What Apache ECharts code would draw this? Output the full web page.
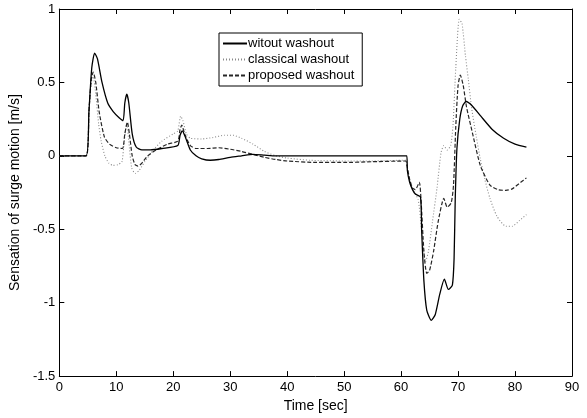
<!DOCTYPE html>
<html>
<head>
<meta charset="utf-8">
<script src="https://cdn.jsdelivr.net/npm/echarts@6/dist/echarts.min.js"></script>
<style>
    html, body { margin: 0; padding: 0; background: #fff; }
    #chart { width: 587px; height: 418px; }
</style>
</head>
<body>
<div id="chart"></div>
<script>
    // without washout
    var t1 = [0, 4.7, 5.2, 5.7, 6.2, 6.7, 7.5, 8.5, 9.5, 10.5, 11.2, 11.5, 11.85, 12.2, 12.8, 13.5, 14.5, 16, 18, 20.8,
        21.2, 21.6, 22.2, 23, 24, 25, 26.5, 28, 30, 32, 34, 36, 38, 40, 61, 61.1, 61.5, 62, 62.5, 63.4,
        63.6, 64, 64.5, 65.3, 66, 66.8, 67.6, 68.3, 69.0, 69.3, 69.5, 69.8, 70.3, 70.8, 71.4, 72.5, 74, 76, 78, 80, 82];
    var v1 = [0, 0, 0.3, 0.6, 0.70, 0.66, 0.5, 0.36, 0.30, 0.26, 0.24, 0.36, 0.42, 0.36, 0.15, 0.06, 0.04, 0.04, 0.05, 0.07,
        0.14, 0.17, 0.12, 0.04, 0.0, -0.02, -0.03, -0.025, -0.01, 0.0, 0.01, 0.005, 0.0, 0, 0, -0.1, -0.18, -0.23, -0.26, -0.28,
        -0.5, -0.85, -1.05, -1.12, -1.08, -0.94, -0.84, -0.91, -0.88, -0.7, -0.3, 0.05, 0.25, 0.34, 0.37, 0.34, 0.27, 0.18, 0.12, 0.08, 0.06];

    // classical washout
    var t2 = [0, 4.7, 5.2, 5.6, 5.95, 6.4, 6.9, 7.35, 8, 8.7, 9.4, 10.3, 11.0, 11.4, 11.85, 12.2, 12.7, 13.3, 14, 15,
        16.5, 18, 20, 20.8, 21.3, 21.7, 22.3, 23, 25, 27, 29, 30.5, 32, 34, 36, 38, 40, 44, 50, 55,
        60.8, 61, 61.5, 62, 63, 63.6, 64.3, 64.8, 65.5, 66.3, 67, 67.5, 68.1, 68.7, 69.1, 69.6, 70.2, 70.7, 71.3, 71.8,
        72.4, 73.2, 73.9, 74.7, 75.6, 76.8, 78.4, 79.5, 80.8, 82];
    var v2 = [0, 0, 0.3, 0.5, 0.54, 0.42, 0.22, 0.1, 0.0, -0.05, -0.065, -0.06, -0.04, 0.1, 0.22, 0.1, -0.08, -0.12, -0.1, -0.04,
        0.04, 0.1, 0.15, 0.17, 0.27, 0.24, 0.15, 0.12, 0.115, 0.125, 0.14, 0.14, 0.12, 0.08, 0.03, 0.0, -0.015, -0.03, -0.035, -0.035,
        -0.03, -0.06, -0.16, -0.22, -0.3, -0.5, -0.72, -0.65, -0.45, -0.22, 0.02, 0.07, 0.04, 0.07, 0.2, 0.6, 0.93, 0.9, 0.68, 0.52,
        0.32, 0.13, -0.02, -0.16, -0.29, -0.41, -0.48, -0.48, -0.44, -0.40];

    // proposed washout
    var t3 = [0, 4.7, 5.2, 5.6, 5.95, 6.4, 7, 7.9, 8.8, 10, 11.1, 11.5, 11.95, 12.3, 12.8, 13.3, 13.8, 14.5, 15.5, 17,
        19, 20.8, 21.2, 21.5, 22, 23, 24, 26, 28, 30, 32, 34, 36, 38, 40, 45, 50, 55, 60.8, 61,
        61.5, 62, 62.5, 63.2, 63.5, 64, 64.5, 65, 65.7, 66.5, 67.5, 68.1, 68.8, 69.2, 69.6, 70.0, 70.4, 70.9, 71.5, 72.5,
        73.9, 75.6, 77, 78.4, 79.5, 81, 82];
    var v3 = [0, 0, 0.3, 0.52, 0.57, 0.5, 0.3, 0.13, 0.08, 0.055, 0.05, 0.15, 0.23, 0.15, 0.0, -0.06, -0.07, -0.05, 0.0, 0.04,
        0.08, 0.1, 0.18, 0.21, 0.15, 0.07, 0.05, 0.05, 0.055, 0.045, 0.03, 0.01, -0.01, -0.025, -0.035, -0.045, -0.045, -0.04, -0.035, -0.06,
        -0.16, -0.22, -0.23, -0.18, -0.3, -0.65, -0.80, -0.78, -0.65, -0.45, -0.29, -0.35, -0.32, -0.2, 0.2, 0.48, 0.55, 0.48, 0.33, 0.16,
        -0.065, -0.2, -0.23, -0.235, -0.225, -0.18, -0.15];

    var names = ['witout washout', 'classical washout', 'proposed washout'];

    function pairs(t, v) {
        var out = [];
        for (var i = 0; i < t.length; i++) {
            out.push([t[i], v[i]]);
        }
        return out;
    }

    var chart = echarts.init(document.getElementById('chart'));

    var font = 'Liberation Sans, Arial';
    var axisFont = { color: '#000', fontSize: 13, fontFamily: font };

    var option = {
        animation: false,
        backgroundColor: '#fff',
        grid: { left: 58, right: 15, top: 9, bottom: 39 },
        legend: {
            orient: 'vertical',
            left: 219,
            top: 33,
            width: 148,
            padding: [4, 8, 4, 3],
            itemGap: 3,
            itemWidth: 24,
            itemHeight: 14,
            backgroundColor: '#fff',
            borderColor: '#000',
            borderWidth: 1,
            itemStyle: { opacity: 0 },
            textStyle: { color: '#000', fontSize: 13, fontFamily: font, padding: [0, 0, 0, -4] },
            data: names
        },
        xAxis: [{
            type: 'value',
            min: 0, max: 90, interval: 10,
            name: 'Time [sec]',
            nameLocation: 'middle',
            nameGap: 20,
            nameTextStyle: { color: '#000', fontSize: 14, fontFamily: font },
            axisLine: { onZero: false, lineStyle: { color: '#000', width: 1 } },
            axisTick: { inside: true, length: 5, lineStyle: { color: '#000' } },
            axisLabel: Object.assign({ margin: 5 }, axisFont),
            splitLine: { show: false }
        }, {
            type: 'value',
            position: 'top',
            min: 0, max: 90, interval: 10,
            axisLine: { onZero: false, lineStyle: { color: '#000', width: 1 } },
            axisTick: { inside: true, length: 5, lineStyle: { color: '#000' } },
            axisLabel: { show: false },
            splitLine: { show: false }
        }],
        yAxis: [{
            type: 'value',
            min: -1.5, max: 1, interval: 0.5,
            name: 'Sensation of surge motion [m/s]',
            nameLocation: 'middle',
            nameGap: 27,
            nameTextStyle: { color: '#000', fontSize: 14, fontFamily: font },
            axisLine: { onZero: false, lineStyle: { color: '#000', width: 1 } },
            axisTick: { inside: true, length: 5, lineStyle: { color: '#000' } },
            axisLabel: Object.assign({ margin: 4 }, axisFont),
            splitLine: { show: false }
        }, {
            type: 'value',
            position: 'right',
            min: -1.5, max: 1, interval: 0.5,
            axisLine: { onZero: false, lineStyle: { color: '#000', width: 1 } },
            axisTick: { inside: true, length: 5, lineStyle: { color: '#000' } },
            axisLabel: { show: false },
            splitLine: { show: false }
        }],
        series: [{
            name: names[0],
            type: 'line',
            data: pairs(t1, v1),
            showSymbol: false,
            symbol: 'none',
            smooth: 0.2,
            z: 3,
            lineStyle: { color: '#000', width: 1.3, type: 'solid' },
            itemStyle: { color: '#000' }
        }, {
            name: names[1],
            type: 'line',
            data: pairs(t2, v2),
            showSymbol: false,
            symbol: 'none',
            smooth: 0.2,
            z: 1,
            lineStyle: { color: '#8a8a8a', width: 1.1, type: [1, 2] },
            itemStyle: { color: '#8a8a8a' }
        }, {
            name: names[2],
            type: 'line',
            data: pairs(t3, v3),
            showSymbol: false,
            symbol: 'none',
            smooth: 0.2,
            z: 2,
            lineStyle: { color: '#262626', width: 1.2, type: [4, 2] },
            itemStyle: { color: '#262626' }
        }]
    };

    chart.setOption(option);
</script>
</body>
</html>
